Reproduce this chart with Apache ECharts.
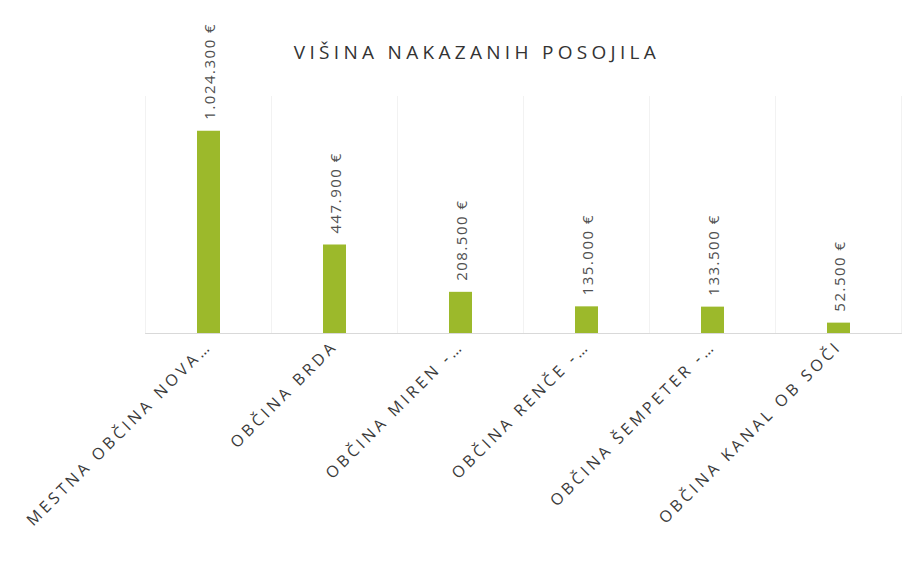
<!DOCTYPE html>
<html>
<head>
<meta charset="utf-8">
<script src="https://cdn.jsdelivr.net/npm/echarts@6/dist/echarts.min.js"></script>
<style>
    html, body { margin: 0; padding: 0; background: #fff; }
    #chart { width: 913px; height: 562px; }
    /* Excel-style expanded character spacing */
    #chart svg text[text-anchor="middle"] { letter-spacing: 4.3px; }
    #chart svg text[text-anchor="end"] { letter-spacing: 3.5px; }
    #chart svg text[text-anchor="start"] { letter-spacing: 1.5px; }
</style>
</head>
<body>
<div id="chart"></div>
<script>
const categories = [
    'MESTNA OBČINA NOVA…',
    'OBČINA BRDA',
    'OBČINA MIREN -…',
    'OBČINA RENČE -…',
    'OBČINA ŠEMPETER -…',
    'OBČINA KANAL OB SOČI'
];
const loans = [1024300, 447900, 208500, 135000, 133500, 52500];

function euro(v){
    return String(v).replace(/\B(?=(\d{3})+(?!\d))/g, '.') + ' €';
}

const chart = echarts.init(document.getElementById('chart'), null, {renderer:'svg'});
chart.setOption({
    animation:false,
    backgroundColor:'#fff',
    title:{
        text:'VIŠINA NAKAZANIH POSOJILA',
        left:472,
        top:37,
        textAlign:'center',
        textStyle:{
            fontFamily:'Open Sans',
            fontSize:19,
            fontWeight:'normal',
            color:'#333'
        }
    },
    grid:{
        left:145.5,
        right:11.5,
        top:96,
        bottom:229
    },
    xAxis:{
        type:'category',
        data:categories,
        axisLine:{lineStyle:{color:'#d9d9d9'}},
        axisTick:{show:false},
        splitLine:{show:true, lineStyle:{color:'#f2f2f2'}},
        axisLabel:{
            interval:0,
            rotate:45,
            margin:10,
            fontFamily:'Open Sans',
            fontSize:16,
            color:'#3a3a3a'
        }
    },
    yAxis:{
        type:'value',
        min:0,
        max:1200000,
        show:false,
        splitLine:{show:false}
    },
    series:[{
        type:'bar',
        data:loans,
        barWidth:23,
        itemStyle:{color:'#9cb92b'},
        label:{
            show:true,
            position:'top',
            distance:11,
            rotate:90,
            align:'left',
            verticalAlign:'middle',
            fontFamily:'Open Sans',
            fontSize:15,
            color:'#505050',
            formatter:(p)=>euro(p.value)
        }
    }]
});
</script>
</body>
</html>
